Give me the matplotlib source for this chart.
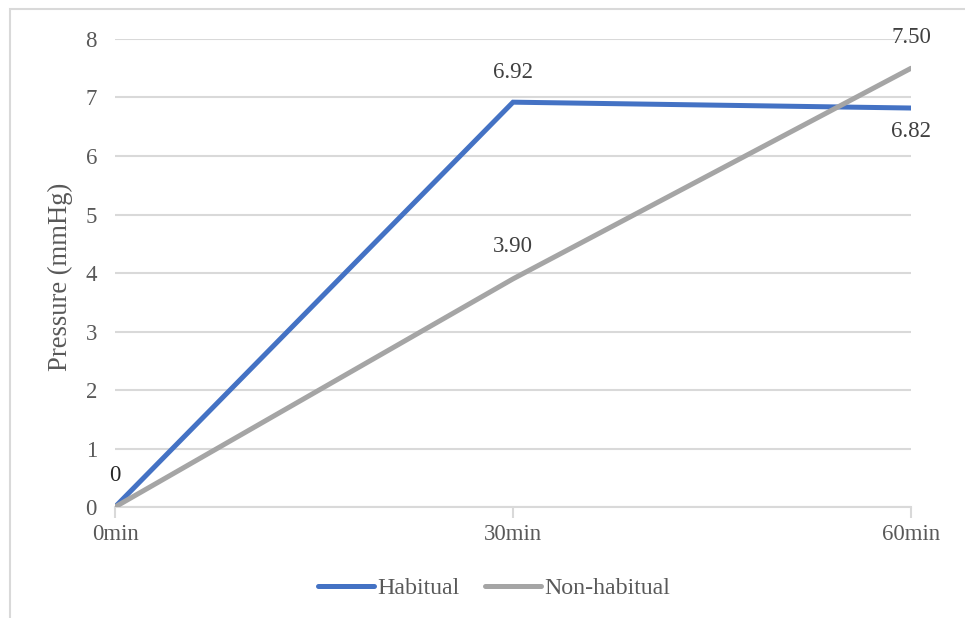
import matplotlib.pyplot as plt
from matplotlib.patches import Rectangle

plt.rcParams['font.family'] = ['Liberation Serif', 'DejaVu Serif']

times = ["0min", "30min", "60min"]
habitual = [0, 6.92, 6.82]
non_habitual = [0, 3.90, 7.50]
y_ticks = [0, 1, 2, 3, 4, 5, 6, 7, 8]

blue = "#4472C4"
gray = "#A5A5A5"
grid_col = "#D9D9D9"
text_col = "#595959"
label_col = "#404040"
fs = 16.5

fig = plt.figure(figsize=(9.65, 6.18), dpi=100)
ax = fig.add_axes([0.1192, 0.1796, 0.8249, 0.7573])

# outer chart frame (only top/left edges fall inside the image)
fig.patches.append(Rectangle((10 / 965, -0.05), 1.2, 1 - 9 / 618 + 0.05,
                             transform=fig.transFigure, fill=False,
                             edgecolor="#D9D9D9", lw=1.5))

x = list(range(len(times)))
ax.plot(x, habitual, color=blue, lw=3.6, solid_capstyle="round",
        solid_joinstyle="miter", label="Habitual", zorder=3)
ax.plot(x, non_habitual, color=gray, lw=3.6, solid_capstyle="round",
        solid_joinstyle="miter", label="Non-habitual", zorder=3)

ax.set_xlim(0, 2)
ax.set_ylim(0, 8)
ax.set_yticks(y_ticks)
ax.set_xticks(x)
ax.set_xticklabels(times)
ax.yaxis.grid(True, color=grid_col, lw=1.5)
ax.set_axisbelow(True)
for s in ["top", "right", "left"]:
    ax.spines[s].set_visible(False)
ax.spines["bottom"].set_color(grid_col)
ax.spines["bottom"].set_linewidth(1.5)
ax.tick_params(axis="y", length=0, pad=13, labelsize=fs, labelcolor=text_col)
ax.tick_params(axis="x", length=8, width=1.5, color=grid_col, pad=4,
               labelsize=fs, labelcolor=text_col)
ax.set_ylabel("Pressure (mmHg)", fontsize=19.2, color=text_col)
ax.yaxis.set_label_coords(-0.053, 0.491)

# data labels
ax.annotate("0", (0, 0), xytext=(0, 32), textcoords="offset pixels",
            ha="center", va="center", fontsize=fs, color="#262626")
ax.annotate("6.92", (1, habitual[1]), xytext=(0, 30), textcoords="offset pixels",
            ha="center", va="center", fontsize=fs, color=label_col)
ax.annotate("6.82", (2, habitual[2]), xytext=(0, -23), textcoords="offset pixels",
            ha="center", va="center", fontsize=fs, color=label_col)
ax.annotate("3.90", (1, non_habitual[1]), xytext=(0, 32), textcoords="offset pixels",
            ha="center", va="center", fontsize=fs, color=label_col)
ax.annotate("7.50", (2, non_habitual[2]), xytext=(0, 31), textcoords="offset pixels",
            ha="center", va="center", fontsize=fs, color=label_col, clip_on=False)

leg = fig.legend(loc="center", bbox_to_anchor=(494 / 965, 1 - 588 / 618), ncol=2,
                 frameon=False, fontsize=17.2, handlelength=2.35, handletextpad=0.1,
                 columnspacing=1.1, labelcolor=text_col)

fig.savefig("out.png", dpi=100)
